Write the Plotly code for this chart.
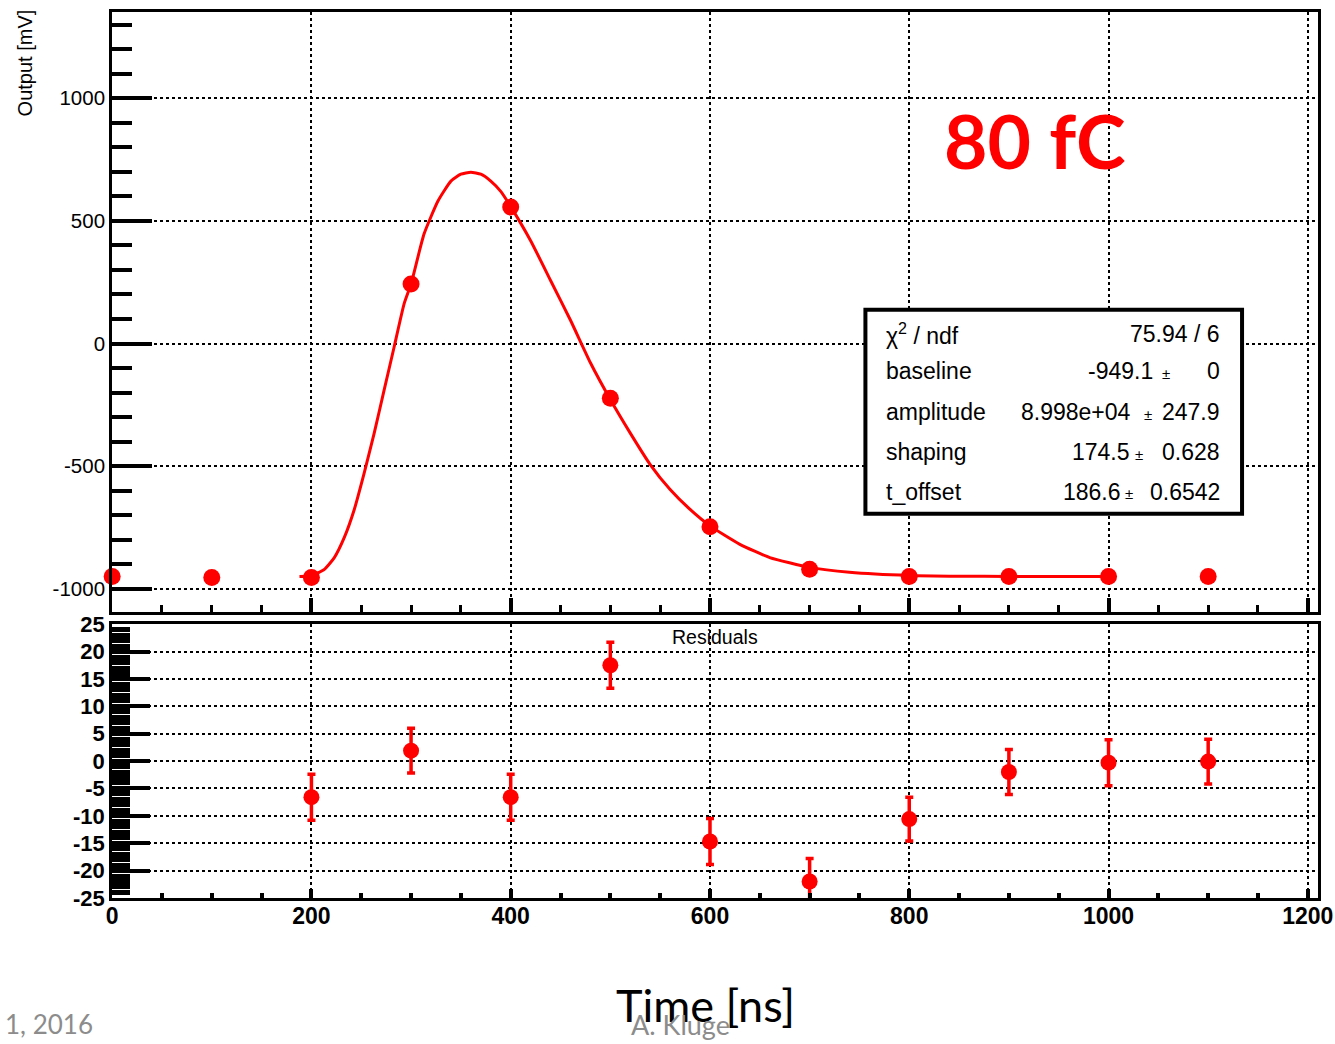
import plotly.graph_objects as go

# page geometry: reference pixel coordinates are mapped through px/py
SX, OX = 0.988, 3.5
SY, OY = 0.981, 10.0
W, H = 1348, 1054

# ---------------- data ----------------
t_data = [0, 100, 200, 300, 400, 500, 600, 700, 800, 900, 1000, 1100]
v_data = [-949, -953, -953, 243, 556, -223, -746, -920, -949, -949, -949, -949]

curve_t = [188, 200, 213, 223, 233, 243, 253, 263, 273, 283, 293, 300, 313, 327, 340,
           350, 360, 370, 380, 390, 400, 420, 440, 460, 480, 500, 520, 540, 560, 580,
           600, 630, 660, 700, 740, 800, 850, 900, 1000]
curve_v = [-949, -946, -920, -872, -790, -676, -527, -365, -189, -14, 162, 243, 446, 581, 662,
           690, 698, 690, 662, 620, 558, 419, 257, 95, -78, -228, -365, -493, -595, -676,
           -743, -818, -872, -912, -932, -945, -948, -949, -949]

res_t = [200, 300, 400, 500, 600, 700, 800, 900, 1000, 1100]
res_v = [-6.6, 1.9, -6.6, 17.5, -14.7, -22.0, -10.6, -2.0, -0.3, -0.1]
res_err = [4.2, 4.1, 4.2, 4.2, 4.2, 4.2, 4.0, 4.1, 4.2, 4.1]

stat_labels = ["χ<sup>2</sup> / ndf", "baseline", "amplitude", "shaping", "t_offset"]
stat_values = ["75.94 / 6", "-949.1", "8.998e+04", "174.5", "186.6"]
stat_errors = ["", "0", "247.9", "0.628", "0.6542"]

top_yticks = [-1000, -500, 0, 500, 1000]
res_yticks = [-25, -20, -15, -10, -5, 0, 5, 10, 15, 20, 25]
x_ticks = [0, 200, 400, 600, 800, 1000, 1200]

# ---------------- helpers ----------------
def px(x):
    return min(1.0, max(0.0, (x / SX - OX) / W))

def py(y):
    return min(1.0, max(0.0, 1 - (y / SY - OY) / H))

FONT = "Liberation Sans, Arial, Helvetica, sans-serif"
SLIDE = "Lato, Open Sans, sans-serif"

fig = go.Figure()

fig.add_trace(go.Scatter(x=curve_t, y=curve_v, mode="lines",
                         line=dict(color="#ff0000", width=3, shape="spline", smoothing=0.5),
                         xaxis="x", yaxis="y", hoverinfo="skip", showlegend=False))
fig.add_trace(go.Scatter(x=t_data, y=v_data, mode="markers",
                         marker=dict(color="#ff0000", size=17),
                         cliponaxis=False, xaxis="x", yaxis="y", showlegend=False))
fig.add_trace(go.Scatter(x=res_t, y=res_v, mode="markers",
                         marker=dict(color="#ff0000", size=16),
                         error_y=dict(type="data", array=res_err, color="#ff0000",
                                      thickness=3.5, width=4),
                         xaxis="x2", yaxis="y2", showlegend=False))

xdom = [px(110), px(1320)]
grid = dict(showgrid=True, gridcolor="black", griddash="dot", gridwidth=2)
line = dict(showline=True, linecolor="black", linewidth=3, mirror=True, zeroline=False)

fig.update_layout(
    width=W, height=H,
    margin=dict(l=0, r=0, t=0, b=0),
    paper_bgcolor="white", plot_bgcolor="white",
    font=dict(family=FONT, color="black"),
    xaxis=dict(domain=xdom, anchor="y", range=[0, 1210], tickvals=x_ticks,
               ticks="inside", ticklen=14, tickwidth=4, tickcolor="black",
               showticklabels=False,
               minor=dict(ticks="inside", ticklen=7, tickwidth=3, tickcolor="black",
                          dtick=50, tick0=0, showgrid=False),
               **grid, **line),
    yaxis=dict(domain=[py(613), py(9.8)], anchor="x", range=[-1095, 1351],
               tickvals=top_yticks, ticktext=[str(v) for v in top_yticks],
               ticks="inside", ticklen=40, tickwidth=4, tickcolor="black",
               tickfont=dict(size=20.5, family=FONT), ticklabeloverflow="allow",
               minor=dict(ticks="inside", ticklen=20, tickwidth=4, tickcolor="black",
                          dtick=100, tick0=0, showgrid=False),
               **grid, **line),
    xaxis2=dict(domain=xdom, anchor="y2", range=[0, 1210], tickvals=x_ticks,
                ticktext=[str(v) for v in x_ticks],
                ticks="inside", ticklen=9, tickwidth=4, tickcolor="black",
                tickfont=dict(size=23, family=FONT, weight="bold"),
                ticklabeloverflow="allow", ticklabelstandoff=-5,
                minor=dict(ticks="inside", ticklen=5, tickwidth=4, tickcolor="black",
                           dtick=50, tick0=0, showgrid=False),
                **grid, **line),
    yaxis2=dict(domain=[py(900), py(625)], anchor="x2", range=[-25, 25],
                tickvals=res_yticks, ticktext=[str(v) for v in res_yticks],
                ticks="inside", ticklen=38, tickwidth=4, tickcolor="black",
                tickfont=dict(size=22, family=FONT, weight="bold"),
                ticklabeloverflow="allow",
                minor=dict(ticks="inside", ticklen=18, tickwidth=4.6, tickcolor="black",
                           dtick=1, tick0=0, showgrid=False),
                **grid, **line),
)

shapes = [dict(type="rect", xref="paper", yref="paper",
               x0=px(866), x1=px(1244), y0=py(514), y1=py(309),
               line=dict(color="black", width=4), fillcolor="white", layer="above")]


def note(x, y, text, size, family=FONT, color="black", xanchor="center", **kw):
    return dict(x=px(x), y=py(y), xref="paper", yref="paper", text=text,
                xanchor=xanchor, yanchor="middle", showarrow=False,
                font=dict(size=size, family=family, color=color), **kw)


ann = []
ann.append(note(22, 61, "Output [mV]", 20, textangle=-90))
ann.append(note(715, 638, "Residuals", 19.5))
ann.append(note(1036, 138, "<b>80 fC</b>", 75, family="Lato, sans-serif", color="#ff0000"))

row_y = [333, 371, 412, 452, 492]
val_right = [1224, 1157, 1135, 1134, 1125]
pm_center = [0, 1168, 1150, 1141, 1131]
for i in range(5):
    ann.append(note(885, row_y[i], stat_labels[i], 23, xanchor="left"))
    ann.append(note(val_right[i], row_y[i], stat_values[i], 23, xanchor="right"))
    if stat_errors[i] != "":
        ann.append(note(pm_center[i], row_y[i] + 2, "±", 15))
        ann.append(note(1224, row_y[i], stat_errors[i], 23, xanchor="right"))

ann.append(note(706, 1008, "Time [ns]", 45, family=SLIDE))
ann.append(note(680, 1027, "A. Kluge", 27, family=SLIDE, color="#8c8c8c"))
ann.append(note(93, 1027, "1, 2016", 26, family=SLIDE, color="#8c8c8c", xanchor="right"))

fig.update_layout(shapes=shapes, annotations=ann)
fig.write_html("out.html")
